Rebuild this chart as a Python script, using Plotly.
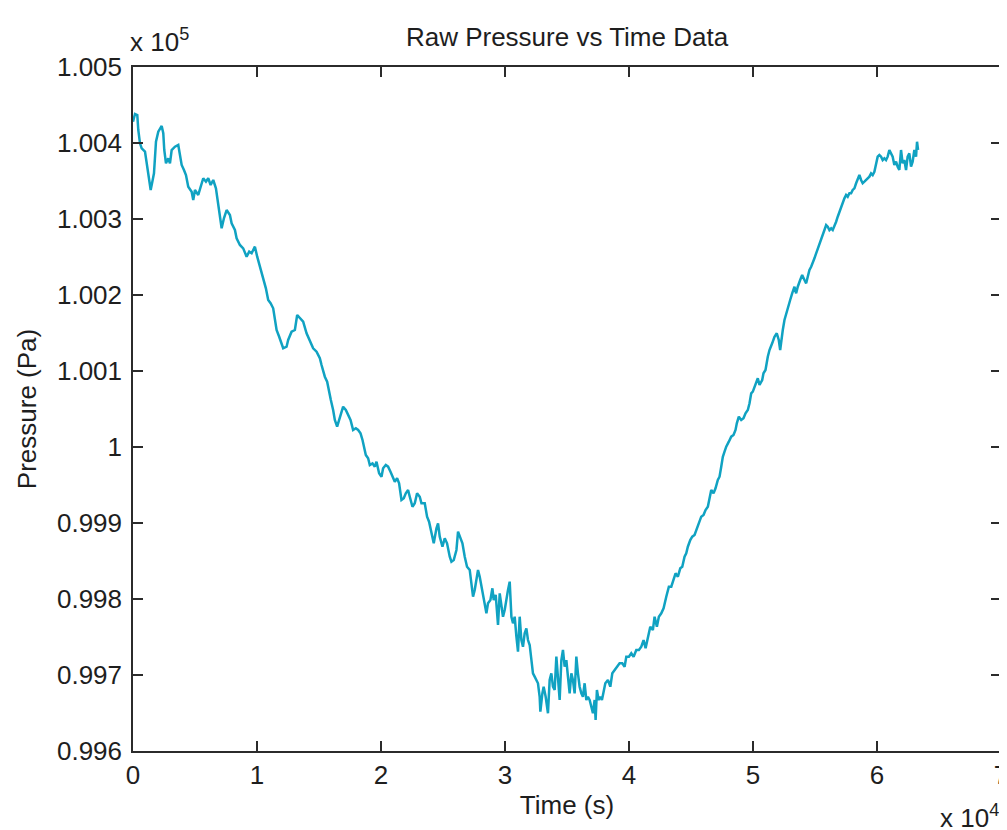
import plotly.graph_objects as go

# Time (s) and pressure (Pa), in five consecutive stretches
time_s_1 = [0, 161, 346, 427, 564, 701, 967, 1104, 1233, 1426, 1587, 1692, 1853, 2039, 2313, 2442, 2522, 2659, 2844, 2981,
            3118, 3384, 3650, 3787, 3924, 4110, 4271, 4456, 4730, 4859, 4996, 5262, 5399, 5665, 5882, 6068, 6261, 6471, 6688, 6793,
            6954, 7148, 7333, 7550, 7816, 7953, 8219, 8356, 8622, 8888, 9162, 9372, 9565, 9831, 10016, 10234, 10500, 10717, 10903, 11096,
            11306, 11442, 11579, 11789, 12111, 12385, 12514, 12788, 13054, 13240, 13594, 13723, 13997, 14263, 14529, 14803, 15068]
pressure_pa_1 = [100428.0, 100438.2, 100436.8, 100417.1, 100399.6, 100393.0, 100388.6, 100373.3, 100355.7, 100338.2, 100351.3, 100360.1,
                 100401.7, 100414.9, 100422.4, 100412.8, 100390.8, 100373.3, 100379.9, 100373.3, 100390.8, 100395.1, 100397.4, 100386.4,
                 100371.1, 100364.5, 100357.9, 100342.5, 100335.9, 100325.0, 100338.2, 100331.6, 100338.2, 100353.6, 100349.1, 100353.6,
                 100344.7, 100351.3, 100340.4, 100329.3, 100307.5, 100287.8, 100300.9, 100311.8, 100305.3, 100294.3, 100285.5, 100274.6,
                 100265.8, 100261.4, 100250.4, 100257.0, 100254.9, 100263.6, 100250.4, 100237.2, 100219.7, 100208.8, 100193.4, 100189.1,
                 100182.5, 100167.1, 100153.9, 100145.1, 100129.9, 100132.0, 100140.8, 100151.7, 100153.9, 100173.7, 100167.1, 100164.9,
                 100149.6, 100140.8, 100129.9, 100125.4, 100116.7]

time_s_2 = [15205, 15334, 15471, 15657, 15818, 15955, 16140, 16277, 16463, 16624, 16817, 16946, 17164, 17349, 17542, 17752, 17969,
            18155, 18348, 18509, 18638, 18775, 18961, 19097, 19315, 19500, 19637, 19847, 20040, 20169, 20387, 20572, 20766, 20927,
            21112, 21298, 21459, 21652, 21837, 21998, 22184, 22321, 22538, 22724, 22909, 23126, 23263, 23529, 23715, 23876, 24069,
            24255, 24472, 24601, 24738, 24956, 25141, 25326, 25544, 25681, 25866, 26084, 26213, 26350, 26567, 26753, 26938, 27155]
pressure_pa_2 = [100107.9, 100099.1, 100092.5, 100085.9, 100075.0, 100061.8, 100048.7, 100035.5, 100026.7, 100035.5, 100048.7, 100053.0,
                 100048.7, 100042.1, 100035.5, 100022.4, 100024.6, 100022.4, 100018.0, 100009.2, 100000.4, 99989.5, 99985.1, 99976.3,
                 99978.5, 99974.1, 99980.7, 99965.4, 99960.9, 99972.0, 99976.3, 99974.1, 99967.5, 99960.9, 99954.3, 99958.8, 99952.2,
                 99930.3, 99932.5, 99939.1, 99943.4, 99934.6, 99921.4, 99925.9, 99939.1, 99934.6, 99925.9, 99925.9, 99908.3, 99901.7,
                 99886.4, 99873.3, 99893.0, 99899.6, 99882.0, 99868.8, 99879.9, 99873.3, 99855.7, 99849.1, 99851.3, 99864.5, 99888.6,
                 99882.0, 99873.3, 99855.7, 99842.5, 99838.2]

time_s_3 = [27293, 27422, 27558, 27695, 27824, 27961, 28098, 28227, 28364, 28501, 28630, 28823, 28985, 29089, 29251, 29355, 29436,
            29573, 29710, 29839, 29976, 30113, 30242, 30379, 30516, 30645, 30782, 30919, 31048, 31184, 31321, 31450, 31587, 31724,
            31853, 31990, 32127, 32256, 32393, 32530, 32659, 32795, 32852, 33013, 33118, 33280, 33465, 33602, 33739, 33868, 34005,
            34142, 34271, 34408, 34545, 34674, 34811, 34948, 35077, 35213, 35350, 35479, 35616, 35753, 35882, 36019, 36156, 36285,
            36422, 36559, 36688, 36825, 36962, 37091, 37228, 37308, 37413, 37550, 37687, 37816, 37953, 38090, 38300, 38493, 38654,
            38840, 39025, 39242, 39460, 39645, 39782, 39992, 40185, 40371, 40588, 40798, 40991]
pressure_pa_3 = [99820.7, 99803.0, 99811.8, 99825.0, 99838.2, 99829.3, 99816.2, 99803.0, 99794.3, 99781.2, 99794.3, 99798.7, 99814.1,
                 99798.7, 99805.3, 99785.5, 99765.8, 99807.5, 99789.9, 99776.7, 99785.5, 99803.0, 99811.8, 99822.8, 99776.7, 99768.0,
                 99776.7, 99750.4, 99730.7, 99776.7, 99746.0, 99737.2, 99754.9, 99761.4, 99746.0, 99739.5, 99719.7, 99702.2, 99697.8,
                 99693.4, 99689.1, 99671.4, 99651.7, 99675.9, 99684.6, 99671.4, 99649.6, 99693.4, 99702.2, 99684.6, 99680.3, 99724.1,
                 99693.4, 99667.1, 99719.7, 99732.9, 99710.9, 99719.7, 99697.8, 99675.9, 99702.2, 99693.4, 99675.9, 99724.1, 99702.2,
                 99684.6, 99675.9, 99671.4, 99689.1, 99667.1, 99671.4, 99667.1, 99658.3, 99649.6, 99667.1, 99640.8, 99680.3, 99667.1,
                 99671.4, 99667.1, 99678.0, 99689.1, 99693.4, 99684.6, 99702.2, 99706.6, 99710.9, 99715.4, 99715.4, 99710.9, 99724.1,
                 99724.1, 99728.6, 99724.1, 99732.9, 99732.9, 99737.2]

time_s_4 = [41176, 41337, 41523, 41716, 41926, 42063, 42248, 42409, 42603, 42788, 43006, 43215, 43409, 43594, 43755, 43941, 44134,
            44295, 44480, 44617, 44746, 44940, 45101, 45286, 45423, 45633, 45826, 46011, 46172, 46358, 46495, 46632, 46817, 46978,
            47164, 47301, 47438, 47567, 47704, 47841, 48050, 48244, 48429, 48590, 48695, 48856, 49050, 49235, 49396, 49582, 49719,
            49855, 49984, 50201, 50387, 50524, 50742, 50846, 51008]
pressure_pa_4 = [99746.0, 99735.1, 99750.4, 99763.6, 99759.2, 99776.7, 99763.6, 99776.7, 99781.2, 99787.8, 99803.0, 99816.2, 99816.2,
                 99825.0, 99833.8, 99829.3, 99840.4, 99842.5, 99855.7, 99860.1, 99868.8, 99877.6, 99882.0, 99884.2, 99890.8, 99899.6,
                 99908.3, 99910.5, 99917.1, 99921.4, 99934.6, 99943.4, 99939.1, 99945.7, 99956.6, 99960.9, 99974.1, 99987.2, 99993.8,
                 100000.4, 100007.0, 100013.6, 100015.8, 100022.4, 100031.2, 100039.9, 100035.5, 100037.8, 100044.3, 100048.7,
                 100057.5, 100070.7, 100072.8, 100081.6, 100090.4, 100081.6, 100088.2, 100097.0, 100101.3]

time_s_5 = [51193, 51330, 51547, 51732, 51918, 52079, 52192, 52273, 52402, 52538, 52675, 52804, 52998, 53159, 53344, 53481, 53610,
            53804, 53965, 54150, 54287, 54416, 54553, 54690, 54819, 54956, 55093, 55222, 55358, 55495, 55624, 55761, 55898, 56027,
            56164, 56301, 56430, 56567, 56704, 56833, 56969, 57106, 57235, 57372, 57509, 57638, 57775, 57912, 58041, 58178, 58315,
            58444, 58580, 58717, 58846, 58983, 59120, 59249, 59386, 59523, 59652, 59789, 59926, 60055, 60191, 60328, 60457, 60594,
            60731, 60860, 60997, 61134, 61263, 61400, 61537, 61666, 61802, 61939, 62068, 62205, 62342, 62471, 62608, 62745, 62874,
            63011, 63148, 63229, 63310]
pressure_pa_5 = [100118.8, 100127.6, 100136.4, 100145.1, 100149.6, 100140.8, 100127.6, 100140.8, 100153.9, 100167.1, 100175.9,
                 100184.6, 100193.4, 100202.2, 100210.9, 100202.2, 100210.9, 100219.7, 100226.3, 100219.7, 100215.4, 100224.1,
                 100232.9, 100237.2, 100241.7, 100248.3, 100254.9, 100261.4, 100268.0, 100272.4, 100281.2, 100285.5, 100292.1,
                 100289.9, 100285.5, 100287.8, 100285.5, 100289.9, 100296.4, 100303.0, 100309.6, 100316.2, 100320.7, 100327.2,
                 100331.6, 100329.3, 100333.8, 100333.8, 100338.2, 100340.4, 100347.0, 100351.3, 100357.9, 100351.3, 100347.0,
                 100349.1, 100351.3, 100353.6, 100355.7, 100360.1, 100357.9, 100362.2, 100373.3, 100382.0, 100384.2, 100382.0,
                 100377.6, 100379.9, 100377.6, 100382.0, 100390.8, 100386.4, 100382.0, 100371.1, 100375.4, 100368.8, 100364.5,
                 100390.8, 100373.3, 100377.6, 100364.5, 100382.0, 100386.4, 100368.8, 100375.4, 100390.8, 100382.0, 100401.7,
                 100390.8]

x_tick_vals = [0, 1, 2, 3, 4, 5, 6, 7]
x_tick_text = ["0", "1", "2", "3", "4", "5", "6", "7"]
y_tick_vals = [0.996, 0.997, 0.998, 0.999, 1.000, 1.001, 1.002, 1.003, 1.004, 1.005]
y_tick_text = ["0.996", "0.997", "0.998", "0.999", "1", "1.001", "1.002", "1.003", "1.004", "1.005"]

X_SCALE = 1e4   # axis shows time in units of 10^4 s
Y_SCALE = 1e5   # axis shows pressure in units of 10^5 Pa

t_all, p_all = [], []
for ts, ps in [(time_s_1, pressure_pa_1), (time_s_2, pressure_pa_2), (time_s_3, pressure_pa_3),
               (time_s_4, pressure_pa_4), (time_s_5, pressure_pa_5)]:
    n = min(len(ts), len(ps))
    t_all += ts[:n]
    p_all += ps[:n]

FONT = "Liberation Sans, Arial, sans-serif"
TXT = "#1e1e1e"
AX = "#2b2b2b"
FS = 26

# the page adds an 8 px body margin; the figure starts 8 px in from the window edge
W, H = 1006, 822
R = 13  # plot area right edge lands at 8 + W - R = 1001 px

fig = go.Figure()
fig.add_trace(go.Scatter(
    x=[t / X_SCALE for t in t_all],
    y=[p / Y_SCALE for p in p_all],
    mode="lines",
    line=dict(color="#10a2c2", width=2.5),
    showlegend=False,
    hoverinfo="skip",
))

axis_common = dict(
    showgrid=False, zeroline=False, showline=True, linecolor=AX, linewidth=1.5,
    mirror="ticks", ticks="inside", ticklen=10, tickwidth=1.5, tickcolor=AX,
    tickfont=dict(family=FONT, size=FS, color=TXT), automargin=False,
    ticklabeloverflow="allow",
)

fig.update_layout(
    width=W, height=H,
    margin=dict(l=125, r=R, t=59, b=79),
    paper_bgcolor="white", plot_bgcolor="white",
    title=dict(text="Raw Pressure vs Time Data", x=559 / W, xanchor="center",
               y=1 - 29 / H, yanchor="middle",
               font=dict(family=FONT, size=FS, color=TXT)),
    xaxis=dict(range=[0, 7], tickmode="array", tickvals=x_tick_vals, ticktext=x_tick_text,
               title=dict(text="Time (s)", font=dict(family=FONT, size=FS, color=TXT), standoff=7),
               **axis_common),
    yaxis=dict(range=[0.996, 1.005], tickmode="array", tickvals=y_tick_vals, ticktext=y_tick_text,
               ticklabelstandoff=4,
               title=dict(text="Pressure (Pa)", font=dict(family=FONT, size=FS, color=TXT), standoff=13),
               **axis_common),
    annotations=[
        dict(text="x 10<sup>5</sup>", xref="paper", yref="paper", x=-0.006, y=1.012,
             xanchor="left", yanchor="bottom", showarrow=False,
             font=dict(family=FONT, size=FS, color=TXT)),
        dict(text="x 10<sup>4</sup>", xref="paper", yref="paper", x=1.0, y=-0.068,
             xanchor="right", yanchor="top", showarrow=False,
             font=dict(family=FONT, size=FS, color=TXT)),
    ],
)

fig.write_html("out.html")
